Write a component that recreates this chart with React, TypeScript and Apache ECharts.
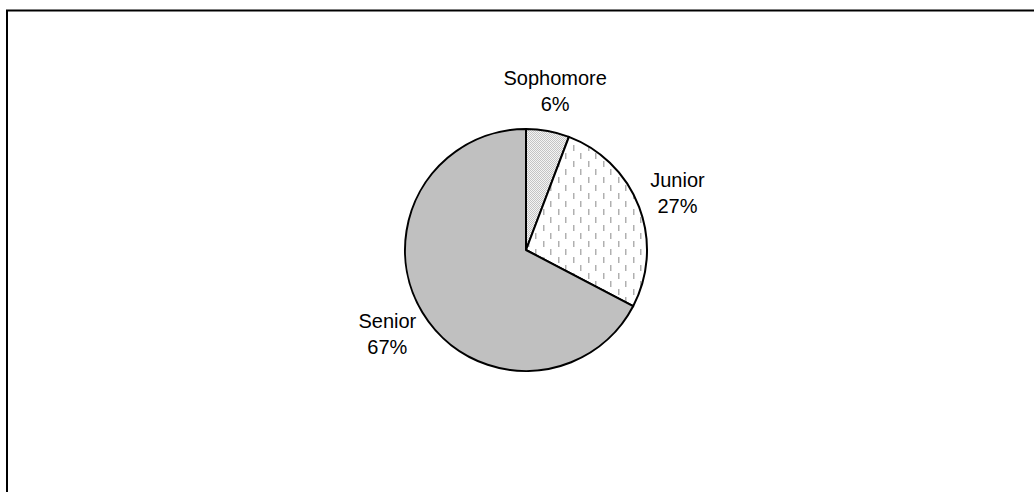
import React, { useEffect, useRef } from "react";
import * as echarts from "echarts";

const categories = ["Sophomore", "Junior", "Senior"];
const counts = [3, 14, 35];

const CX = 526;
const CY = 250;
const R = 121;
const LABEL_DIST = 162;

function makeTile(w: number, h: number, draw: (ctx: CanvasRenderingContext2D) => void): string {
  const c = document.createElement("canvas");
  c.width = w;
  c.height = h;
  const ctx = c.getContext("2d")!;
  draw(ctx);
  return c.toDataURL();
}

export default function App() {
  const ref = useRef<HTMLDivElement>(null);
  useEffect(() => {
    if (!ref.current) return;
    const chart = echarts.init(ref.current, null, { renderer: "svg" });

    const ditherTile = makeTile(2, 2, (ctx) => {
      ctx.fillStyle = "#f4f4f4";
      ctx.fillRect(0, 0, 2, 2);
      ctx.fillStyle = "#c4c4c4";
      ctx.fillRect(0, 0, 1, 1);
      ctx.fillRect(1, 1, 1, 1);
    });
    const dashTile = makeTile(15, 16, (ctx) => {
      ctx.fillStyle = "#ffffff";
      ctx.fillRect(0, 0, 15, 16);
      ctx.fillStyle = "#b0b0b0";
      ctx.fillRect(3, 1, 1, 6);
      ctx.fillRect(10, 9, 1, 6);
      ctx.fillStyle = "#d8d8d8";
      ctx.fillRect(4, 1, 1, 6);
      ctx.fillRect(11, 9, 1, 6);
    });

    const fills: any[] = [
      { image: ditherTile, repeat: "repeat" },
      { image: dashTile, repeat: "repeat" },
      "#c0c0c0",
    ];

    const total = counts.reduce((a, b) => a + b, 0);
    const mids: number[] = [];
    let acc = 0;
    counts.forEach((v) => {
      mids.push(((acc + v / 2) / total) * Math.PI * 2);
      acc += v;
    });

    chart.setOption({
      animation: false,
      backgroundColor: "#ffffff",
      graphic: [
        {
          type: "rect",
          shape: { x: 7, y: 10.5, width: 1200, height: 700 },
          style: { fill: "none", stroke: "#000", lineWidth: 2 },
          z: 10,
        },
      ],
      series: [
        {
          type: "pie",
          center: [CX, CY],
          radius: R,
          startAngle: 90,
          clockwise: true,
          avoidLabelOverlap: false,
          data: categories.map((name, i) => ({
            name,
            value: counts[i],
            itemStyle: { color: fills[i] },
          })),
          itemStyle: { borderColor: "#000", borderWidth: 2 },
          label: {
            show: true,
            position: "outside",
            formatter: (p: any) => `${p.name}\n${Math.round(p.percent)}%`,
            fontFamily: "Liberation Sans, Arial, sans-serif",
            fontSize: 20,
            lineHeight: 26,
            color: "#000",
            align: "center",
          },
          labelLine: { show: false },
          labelLayout: (params: any) => {
            const a = mids[params.dataIndex];
            return {
              x: CX + LABEL_DIST * Math.sin(a),
              y: CY - LABEL_DIST * Math.cos(a),
              align: "center",
              verticalAlign: "middle",
            };
          },
          emphasis: { disabled: true },
        },
      ],
    });
    return () => chart.dispose();
  }, []);
  return (
    <div
      ref={ref}
      style={{ position: "fixed", left: 0, top: 0, width: 1034, height: 492, background: "#fff" }}
    />
  );
}
